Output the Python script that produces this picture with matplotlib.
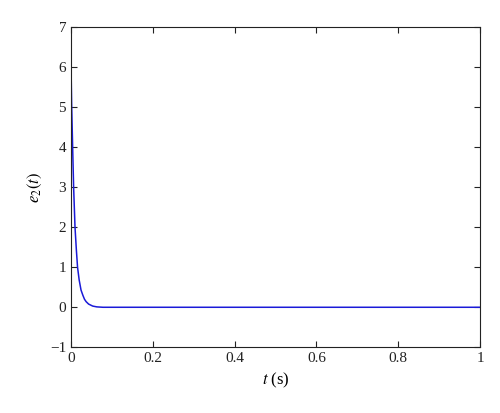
import matplotlib.pyplot as plt

plt.rcParams["font.family"] = "Liberation Serif"
plt.rcParams["mathtext.fontset"] = "stix"

# values
t = [0.0, 0.0015, 0.004, 0.0064, 0.0098, 0.013, 0.016, 0.02, 0.0245, 0.029,
     0.033, 0.037, 0.043, 0.053, 0.063, 0.078, 0.1, 0.2, 0.4, 0.6, 0.8, 1.0]
e2 = [6.05, 5.09, 4.0, 3.0, 2.0, 1.45, 1.0, 0.68, 0.43, 0.3,
      0.2, 0.14, 0.08, 0.03, 0.01, 0.0, 0.0, 0.0, 0.0, 0.0, 0.0, 0.0]

xticks = [0, 0.2, 0.4, 0.6, 0.8, 1]
xticklabels = ["0", "0.2", "0.4", "0.6", "0.8", "1"]
yticks = [-1, 0, 1, 2, 3, 4, 5, 6, 7]
yticklabels = ["\u22121", "0", "1", "2", "3", "4", "5", "6", "7"]

fig = plt.figure(figsize=(5.0, 4.13), dpi=100)
ax = fig.add_axes([0.142, 0.159, 0.818, 0.776])
ax.plot(t, e2, color="#1a1ad8", linewidth=1.1)

ax.set_xlim(0, 1)
ax.set_ylim(-1, 7)
ax.set_xticks(xticks, xticklabels)
ax.set_yticks(yticks, yticklabels)
ax.tick_params(direction="in", top=True, right=True, labelsize=11, length=4,
               colors="#222222")
for s in ax.spines.values():
    s.set_color("#222222")

ax.set_xlabel("$t$ (s)", fontsize=12)
ax.set_ylabel("$e_2(t)$", fontsize=12)

fig.savefig("out.png", dpi=100)
